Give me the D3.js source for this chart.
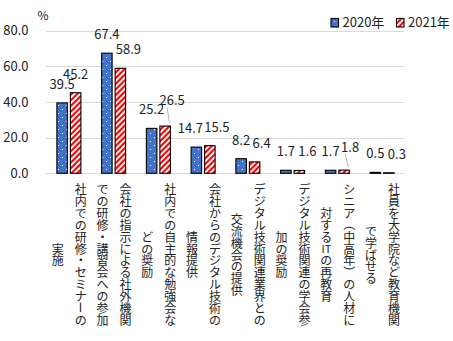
<!DOCTYPE html>
<html><head><meta charset="utf-8">
<script src="https://cdn.jsdelivr.net/npm/d3@7"></script>
<style>
html,body{margin:0;padding:0;background:#fff;}
svg{display:block;}
text{font-family:"Noto Sans CJK JP","Noto Sans",sans-serif;fill:#222;}
</style></head>
<body>
<svg id="chart" width="453" height="341"></svg>
<script>
// ---- data ----
const categories = [
  ["社内での研修・セミナーの","実施"],
  ["会社の指示による社外機関","での研修・講習会への参加"],
  ["社内での自主的な勉強会な","どの奨励"],
  ["会社からのデジタル技術の","情報提供"],
  ["デジタル技術関連業界との","交流機会の提供"],
  ["デジタル技術関連の学会参","加の奨励"],
  ["シニア（中高年）の人材に","対するITの再教育"],
  ["社員を大学院など教育機関","で学ばせる"]
];
const seriesNames = ["2020年","2021年"];
const values2020 = [39.5, 67.4, 25.2, 14.7, 8.2, 1.7, 1.7, 0.5];
const values2021 = [45.2, 58.9, 26.5, 15.5, 6.4, 1.6, 1.8, 0.3];
const yTicks = [0, 20, 40, 60, 80];
const yUnit = "%";

// ---- layout (label nudges are styling, not data) ----
const labelDx = [[0,0,0,-6,0,0,0,0],[0,8,7,7,7,8,6,8]];
const labelDy = [[0,0,0,0,0,0,0,0],[0,0,-7,0,0,0,-4,0]];
const leader  = [[0,0,0,0,0,0,0,0],[0,0,1,0,0,0,1,0]];

const svg = d3.select("#chart");
const defs = svg.append("defs");
const p1 = defs.append("pattern").attr("id","dots").attr("patternUnits","userSpaceOnUse")
  .attr("width",8).attr("height",8);
p1.append("rect").attr("width",8).attr("height",8).attr("fill","#4472C4");
p1.append("rect").attr("x",2).attr("y",1).attr("width",1).attr("height",1).attr("fill","#fff");
p1.append("rect").attr("x",6).attr("y",5).attr("width",1).attr("height",1).attr("fill","#fff");
const p2 = defs.append("pattern").attr("id","stripes").attr("patternUnits","userSpaceOnUse")
  .attr("width",4).attr("height",4).attr("patternTransform","rotate(45)");
p2.append("rect").attr("width",4).attr("height",4).attr("fill","#fff");
p2.append("rect").attr("width",2.1).attr("height",4).attr("fill","#FF0000");
const fills = ["url(#dots)","url(#stripes)"];

const plotL = 46, plotR = 404, y0 = 173.3, yTop = 30.7;
const y = d3.scaleLinear().domain([0,80]).range([y0,yTop]);
const x0 = d3.scaleBand().domain(d3.range(categories.length)).range([plotL,plotR]).padding(0);
const bw = x0.bandwidth();
const x1 = d3.scaleBand().domain([0,1]).range([bw/2-11.5, bw/2+12.5]).paddingInner(0.222);

// gridlines
svg.append("g").selectAll("line").data(yTicks).join("line")
  .attr("x1",plotL).attr("x2",plotR)
  .attr("y1",d=>Math.round(y(d))+0.5).attr("y2",d=>Math.round(y(d))+0.5)
  .attr("stroke","#d9d9d9").attr("stroke-width",1);

// y axis labels
svg.append("g").selectAll("text").data(yTicks).join("text")
  .attr("x",28.5).attr("y",d=>y(d)-1)
  .attr("text-anchor","end").attr("dominant-baseline","central")
  .style("font-size","13px").text(d=>d3.format(".1f")(d));
svg.append("text").attr("x",43).attr("y",20).attr("text-anchor","middle")
  .style("font-size","12px").text(yUnit);

// bars
const allSeries = [values2020, values2021];
allSeries.forEach((vals, s) => {
  const g = svg.append("g");
  g.selectAll("rect").data(vals).join("rect")
    .attr("x",(d,i)=>x0(i)+x1(s))
    .attr("y",d=>y(d))
    .attr("width",x1.bandwidth())
    .attr("height",d=>y0-y(d))
    .attr("fill",fills[s]).attr("stroke","#000").attr("stroke-width",1.1);
  g.selectAll("line.leader").data(vals.map((v,i)=>({v,i})).filter(o=>leader[s][o.i])).join("line")
    .attr("class","leader")
    .attr("x1",o=>x0(o.i)+x1(s)+x1.bandwidth()-1)
    .attr("y1",o=>y(o.v)-3)
    .attr("x2",o=>x0(o.i)+x1(s)+x1.bandwidth()/2+labelDx[s][o.i]-5)
    .attr("y2",o=>y(o.v)-14+labelDy[s][o.i]+2)
    .attr("stroke","#a6a6a6").attr("stroke-width",0.8);
  g.selectAll("text").data(vals).join("text")
    .attr("x",(d,i)=>x0(i)+x1(s)+x1.bandwidth()/2+labelDx[s][i])
    .attr("y",(d,i)=>y(d)-14+labelDy[s][i])
    .attr("text-anchor","middle")
    .style("font-size","13px")
    .text(d=>d3.format(".1f")(d));
});

// vertical category labels, stacked character by character
const charStep = 11.85, labelMidY = 254;
const rotateChars = new Set(["ー","（","）"]);
function cells(str){
  const out = []; const arr = Array.from(str);
  for (let k=0;k<arr.length;k++){
    if (/[A-Za-z]/.test(arr[k]) && k+1<arr.length && /[A-Za-z]/.test(arr[k+1])) {
      out.push(arr[k]+arr[k+1]); k++;
    } else out.push(arr[k]);
  }
  return out;
}
const catG = svg.append("g");
categories.forEach((lines, i) => {
  const cx = x0(i) + bw/2;
  lines.forEach((line, li) => {
    const colX = cx + 12.5 - li*23;
    const cs = cells(line);
    const start = labelMidY - cs.length*charStep/2;
    cs.forEach((ch, k) => {
      const cy = start + (k+0.5)*charStep;
      const t = catG.append("text")
        .attr("text-anchor","middle").attr("dominant-baseline","central")
        .style("font-size", ch.length>1 ? "11px" : "12px")
        .text(ch);
      if (rotateChars.has(ch)) t.attr("transform",`translate(${colX},${cy}) rotate(90)`);
      else t.attr("x",colX).attr("y",cy);
    });
  });
});

// legend
const legX = [331, 396.5];
seriesNames.forEach((nm, s) => {
  svg.append("rect").attr("x",legX[s]).attr("y",18.5).attr("width",7.5).attr("height",8.5)
    .attr("fill",fills[s]).attr("stroke","#000").attr("stroke-width",1.1);
  svg.append("text").attr("x",legX[s]+11.5).attr("y",21.5)
    .attr("dominant-baseline","central").style("font-size","13px").text(nm);
});
</script>
</body></html>
